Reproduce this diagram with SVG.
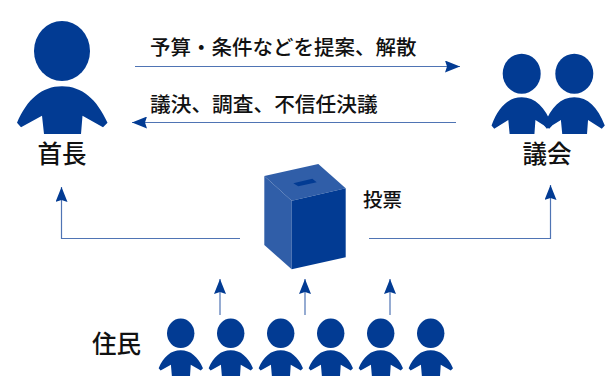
<svg xmlns="http://www.w3.org/2000/svg" width="613" height="382" viewBox="0 0 613 382">
<style>
text{font-family:"Noto Sans CJK JP","Noto Sans",sans-serif;fill:#111}
.big{font-size:24.500px;font-weight:500;text-anchor:middle}
.mid{font-size:20.500px;font-weight:500}
.p{fill:#023b93}
.c{fill:none;stroke:#4f74b4;stroke-width:1.2}
</style>
<defs>
<marker id="a" markerUnits="userSpaceOnUse" markerWidth="16" markerHeight="12" refX="15" refY="6" orient="auto"><path d="M0,0L15,6L0,12L2,6Z" fill="#023b93"/></marker>
<path id="body" d="M-45,36.500C-35,13 -20,0 0,0C20,0 35,13 45.500,36.500L41,41L20.500,29.500L19,47.700L-18,47.700L-20,29.500L-41,41Z"/>
<path id="body-long" d="M-45,36.500C-35,13 -20,0 0,0C20,0 35,13 45.500,36.500L41,41L20.500,29.500L19,52.400L-18,52.400L-20,29.500L-41,41Z"/>
</defs>
<g id="connectors">
<path class="c" d="M135,66.500H460" marker-end="url(#a)"/>
<path class="c" d="M456,122.500H132" marker-end="url(#a)"/>
<path class="c" d="M240,238.500H61.500V187" marker-end="url(#a)"/>
<path class="c" d="M369,238.500H550.500V185" marker-end="url(#a)"/>
<path class="c" d="M220,315V279" marker-end="url(#a)"/>
<path class="c" d="M305,315V279" marker-end="url(#a)"/>
<path class="c" d="M390,315V279" marker-end="url(#a)"/>
</g>
<g id="mayor" class="p"><ellipse cx="62" cy="51" rx="28" ry="30"/><use href="#body" transform="translate(62,86.300)"/><text class="big" x="62" y="163">首長</text></g>
<g id="council" class="p">
<ellipse cx="521.700" cy="73.700" rx="19" ry="20"/><ellipse cx="574.300" cy="73.700" rx="19" ry="20"/>
<use href="#body" transform="translate(521.700,97.300) scale(.67,.77)"/>
<use href="#body" transform="translate(574.300,97.300) scale(.67,.77)"/>
<text class="big" x="547" y="163">議会</text></g>
<g id="ballot-box">
<path fill="#305ea8" d="M264.300,176L318.300,164L345.700,188.300L291.700,200.700Z"/>
<path fill="#305ea8" d="M264.300,176L291.700,200.700V269.300L264.300,245Z"/>
<path fill="#023b93" d="M291.700,200.700L345.700,188.300V257.300L291.700,269.300Z"/>
<path fill="#023b93" d="M293.300,183.300L312.300,178.700L316.700,182.300L298.300,186.300Z"/>
<text class="mid" style="font-size:19.500px" x="363" y="207">投票</text></g>
<g id="residents" class="p">
<ellipse cx="180.700" cy="333.300" rx="13.700" ry="14.700"/><use href="#body-long" transform="translate(180.700,350.300) scale(.49)"/>
<ellipse cx="230.700" cy="333.300" rx="13.700" ry="14.700"/><use href="#body-long" transform="translate(230.700,350.300) scale(.49)"/>
<ellipse cx="280.700" cy="333.300" rx="13.700" ry="14.700"/><use href="#body-long" transform="translate(280.700,350.300) scale(.49)"/>
<ellipse cx="330.700" cy="333.300" rx="13.700" ry="14.700"/><use href="#body-long" transform="translate(330.700,350.300) scale(.49)"/>
<ellipse cx="380.700" cy="333.300" rx="13.700" ry="14.700"/><use href="#body-long" transform="translate(380.700,350.300) scale(.49)"/>
<ellipse cx="430.700" cy="333.300" rx="13.700" ry="14.700"/><use href="#body-long" transform="translate(430.700,350.300) scale(.49)"/>
<text class="big" x="116.500" y="353">住民</text></g>
<g id="labels">
<text class="mid" x="150" y="55">予算・条件などを提案、解散</text>
<text class="mid" style="font-size:20.700px" x="150" y="112">議決、調査、不信任決議</text>
</g>
</svg>
